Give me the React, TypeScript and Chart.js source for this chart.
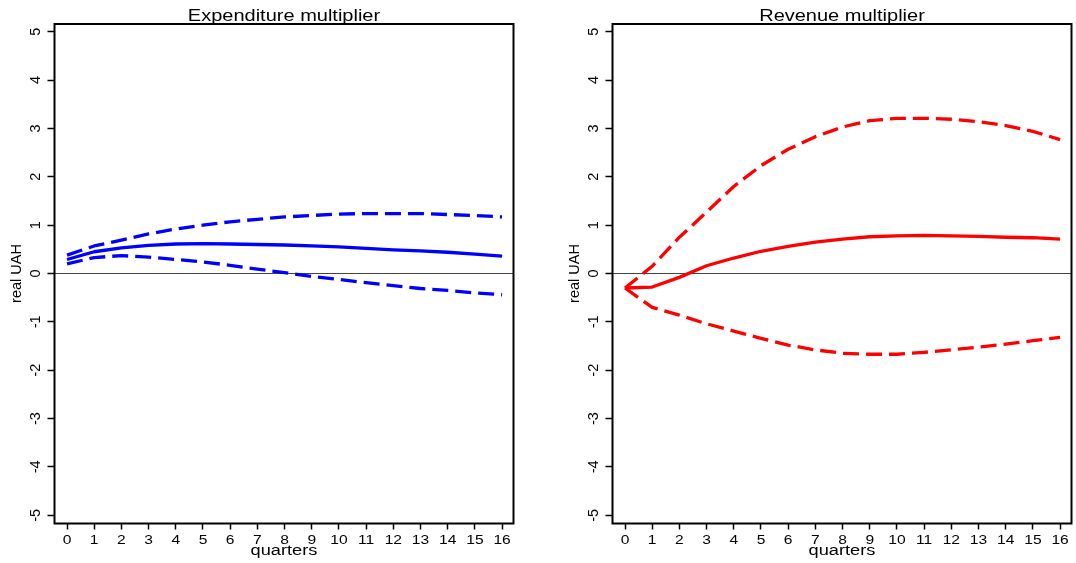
import React, { useEffect, useRef } from "react";
import { Chart, registerables } from "chart.js";

Chart.register(...registerables);

// ---------------- data ----------------
const quarters = [0, 1, 2, 3, 4, 5, 6, 7, 8, 9, 10, 11, 12, 13, 14, 15, 16];
const yTickValues = [-5, -4, -3, -2, -1, 0, 1, 2, 3, 4, 5];

const expMid = [0.29, 0.45, 0.53, 0.58, 0.61, 0.62, 0.61, 0.6, 0.59, 0.57, 0.55, 0.52, 0.49, 0.47, 0.44, 0.4, 0.36];
const expUpper = [0.38, 0.57, 0.69, 0.82, 0.92, 1.0, 1.07, 1.12, 1.17, 1.2, 1.23, 1.24, 1.24, 1.24, 1.22, 1.2, 1.17];
const expLower = [0.2, 0.33, 0.37, 0.34, 0.29, 0.24, 0.17, 0.09, 0.02, -0.06, -0.12, -0.19, -0.25, -0.31, -0.35, -0.4, -0.44];

const revMid = [-0.3, -0.28, -0.08, 0.16, 0.32, 0.46, 0.56, 0.65, 0.71, 0.76, 0.78, 0.79, 0.78, 0.77, 0.75, 0.74, 0.71];
const revUpper = [-0.3, 0.15, 0.75, 1.27, 1.8, 2.23, 2.57, 2.83, 3.03, 3.16, 3.21, 3.21, 3.19, 3.14, 3.06, 2.94, 2.77];
const revLower = [-0.3, -0.7, -0.86, -1.04, -1.19, -1.34, -1.48, -1.58, -1.65, -1.67, -1.67, -1.63, -1.58, -1.52, -1.46, -1.39, -1.32];

const X_MIN = -0.46;
const X_MAX = 16.42;
const Y_MIN = -5.17;
const Y_MAX = 5.16;

const FONT = '"Liberation Sans", Arial, Helvetica, sans-serif';

type Panel = {
  title: string;
  color: string;
  mid: number[];
  upper: number[];
  lower: number[];
};

const panels: Panel[] = [
  { title: "Expenditure multiplier", color: "#0000ff", mid: expMid, upper: expUpper, lower: expLower },
  { title: "Revenue multiplier", color: "#ff0000", mid: revMid, upper: revUpper, lower: revLower },
];

function hText(ctx: CanvasRenderingContext2D, text: string, x: number, y: number, size: number, sx: number) {
  ctx.save();
  ctx.font = `${size}px ${FONT}`;
  ctx.fillStyle = "#000";
  ctx.textAlign = "center";
  ctx.textBaseline = "alphabetic";
  ctx.translate(x, y);
  ctx.scale(sx, 1);
  ctx.fillText(text, 0, 0);
  ctx.restore();
}

function vText(ctx: CanvasRenderingContext2D, text: string, x: number, y: number, size: number) {
  ctx.save();
  ctx.font = `${size}px ${FONT}`;
  ctx.fillStyle = "#000";
  ctx.textAlign = "center";
  ctx.textBaseline = "alphabetic";
  ctx.translate(x, y);
  ctx.rotate(-Math.PI / 2);
  ctx.fillText(text, 0, 0);
  ctx.restore();
}

function makeDecor(title: string) {
  return {
    id: "decor",
    afterDraw(chart: any) {
      const ctx: CanvasRenderingContext2D = chart.ctx;
      const { left, right, top, bottom } = chart.chartArea;
      const xs = chart.scales.x;
      const ys = chart.scales.y;
      // frame
      ctx.save();
      ctx.strokeStyle = "#000";
      ctx.lineWidth = 2;
      ctx.strokeRect(left, top, right - left, bottom - top);
      ctx.restore();
      // title
      hText(ctx, title, (left + right) / 2, 20.5, 16, 1.25);
      // x tick labels
      quarters.forEach((q) => {
        hText(ctx, String(q), xs.getPixelForValue(q), 544, 13, 1.2);
      });
      hText(ctx, "quarters", (left + right) / 2, 555, 14, 1.3);
      // y tick labels (rotated)
      yTickValues.forEach((v) => {
        vText(ctx, String(v), left - 14.5, ys.getPixelForValue(v), 14.5);
      });
      vText(ctx, "real UAH", left - 33.5, ys.getPixelForValue(0), 14.5);
    },
  };
}

function PanelChart({ panel, left }: { panel: Panel; left: number }) {
  const ref = useRef<HTMLCanvasElement | null>(null);
  useEffect(() => {
    if (!ref.current) return;
    const pts = (vals: number[]) => quarters.map((q, i) => ({ x: q, y: vals[i] }));
    const dashed = [16, 7];
    const common = {
      borderColor: panel.color,
      borderWidth: 3.3,
      pointRadius: 0,
      tension: 0,
      fill: false,
      borderJoinStyle: "round",
    };
    const chart = new Chart(ref.current, {
      type: "line",
      data: {
        datasets: [
          { label: "upper", data: pts(panel.upper), borderDash: dashed, ...common },
          { label: "multiplier", data: pts(panel.mid), ...common },
          { label: "lower", data: pts(panel.lower), borderDash: dashed, ...common },
        ],
      },
      options: {
        responsive: false,
        animation: false,
        devicePixelRatio: 1,
        layout: { padding: { top: 24, right: 4.5, bottom: 0, left: 0 } },
        plugins: {
          legend: { display: false },
          tooltip: { enabled: false },
          title: { display: false },
        },
        scales: {
          x: {
            type: "linear",
            min: X_MIN,
            max: X_MAX,
            afterBuildTicks: (scale: any) => {
              scale.ticks = quarters.map((v) => ({ value: v }));
            },
            afterFit: (scale: any) => {
              scale.height = 39.5;
            },
            ticks: { display: false },
            border: { display: false },
            grid: {
              drawOnChartArea: false,
              drawTicks: true,
              tickLength: 6,
              tickColor: "#000",
              tickWidth: 1.5,
              color: "#000",
            },
          },
          y: {
            type: "linear",
            min: Y_MIN,
            max: Y_MAX,
            afterBuildTicks: (scale: any) => {
              scale.ticks = yTickValues.map((v) => ({ value: v }));
            },
            afterFit: (scale: any) => {
              scale.width = 54.5;
            },
            ticks: { display: false },
            border: { display: false },
            grid: {
              drawOnChartArea: true,
              drawTicks: true,
              tickLength: 7,
              tickColor: "#000",
              tickWidth: 1.5,
              lineWidth: 1,
              color: (c: any) => (c.tick && c.tick.value === 0 ? "#444" : "rgba(0,0,0,0)"),
            },
          },
        },
      },
      plugins: [makeDecor(panel.title)],
    } as any);
    return () => chart.destroy();
  }, [panel]);
  return (
    <canvas
      ref={ref}
      width={518}
      height={563}
      style={{ position: "absolute", left, top: 0, width: 518, height: 563 }}
    />
  );
}

export default function App() {
  return (
    <div
      style={{
        position: "absolute",
        left: 0,
        top: 0,
        width: 1076,
        height: 563,
        background: "#fff",
        overflow: "hidden",
      }}
    >
      <PanelChart panel={panels[0]} left={0} />
      <PanelChart panel={panels[1]} left={557.5} />
    </div>
  );
}
